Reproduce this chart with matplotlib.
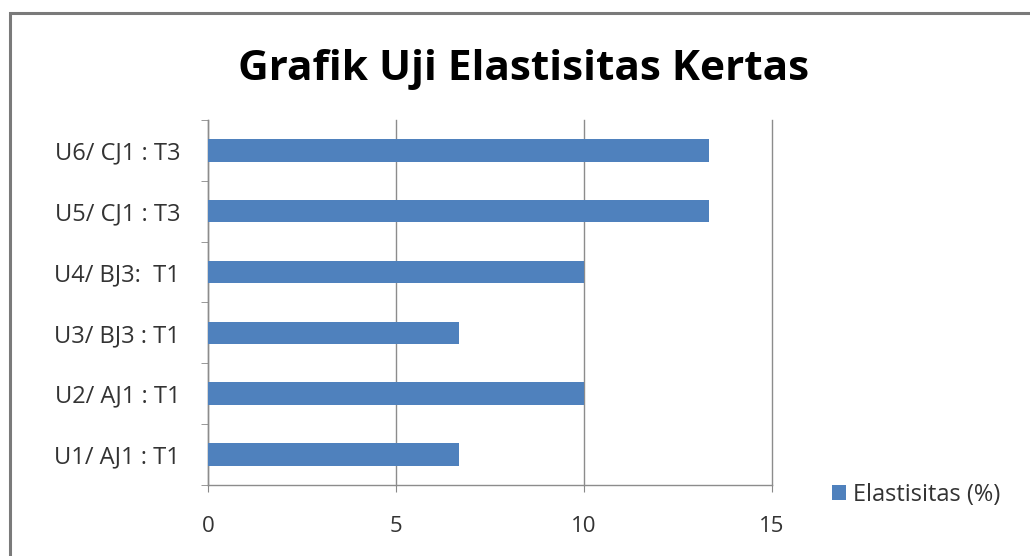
import matplotlib.pyplot as plt
from matplotlib.patches import Rectangle
import numpy as np

plt.rcParams['font.family'] = ['Open Sans', 'DejaVu Sans']

# Data
labels = ['U1/ AJ1 : T1', 'U2/ AJ1 : T1', 'U3/ BJ3 : T1',
          'U4/ BJ3:  T1', 'U5/ CJ1 : T3', 'U6/ CJ1 : T3']
elastisitas = [6.67, 10.0, 6.67, 10.0, 13.33, 13.33]
xticks = [0, 5, 10, 15]

fig = plt.figure(figsize=(10.3, 5.56), dpi=100)
ax = fig.add_axes([0.2019, 0.1277, 0.5476, 0.6565])

y = np.arange(len(labels))
ax.barh(y, elastisitas, height=0.37, color='#4F81BD', zorder=3,
        label='Elastisitas (%)')

ax.set_xlim(0, 15)
ax.set_ylim(-0.5, len(labels) - 0.5)
ax.set_xticks(xticks)
ax.set_xticklabels([str(t) for t in xticks], fontsize=16, color='#333333')
ax.set_yticks(y)
ax.set_yticklabels(labels, fontsize=17, color='#333333')
ax.set_yticks(np.arange(-0.5, len(labels)), minor=True)

ax.tick_params(axis='y', which='major', length=0, pad=20)
ax.tick_params(axis='y', which='minor', length=5, color='#888888', direction='out')
ax.tick_params(axis='x', length=5, color='#888888', direction='out', pad=17)

ax.grid(axis='x', color='#8c8c8c', linewidth=1.0, zorder=0)
for line in ax.get_xgridlines():
    line.set_clip_on(False)
for s in ['top', 'right']:
    ax.spines[s].set_visible(False)
for s in ['left', 'bottom']:
    ax.spines[s].set_color('#8c8c8c')
    ax.spines[s].set_linewidth(1.0)

fig.text(0.508, 0.875, 'Grafik Uji Elastisitas Kertas', ha='center', va='center',
         fontsize=30.5, fontweight='bold', color='black')

fig.legend(loc='center left', bbox_to_anchor=(0.787, 0.11), frameon=False,
           fontsize=17, handlelength=0.6, handleheight=0.6, handletextpad=0.3,
           labelcolor='#333333')

# outer chart frame
fig.patches.append(Rectangle((0.0095, -0.05), 1.05, 1.0266,
                             transform=fig.transFigure, fill=False,
                             edgecolor='#7a7a7a', linewidth=2.2))

fig.savefig('out.png', dpi=100)
